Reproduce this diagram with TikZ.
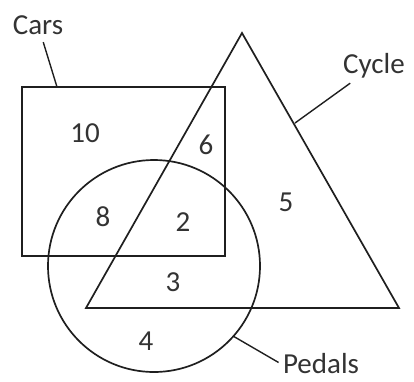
\documentclass[tikz,border=0pt]{standalone}
\usepackage{fontspec}
\setmainfont{Carlito}
\begin{document}
\begin{tikzpicture}[x=1pt, y=-1pt, line width=1.7pt, draw=black!88,
  lbl/.style={font=\fontsize{29}{34}\selectfont, text=black!80, inner sep=1pt},
  leader/.style={line width=1.4pt, draw=black!88}]
  \useasboundingbox (0,0) rectangle (414,381);
  % sets
  \draw (22,87) rectangle (225,256);
  \draw (242,33) -- (399,308) -- (86,308) -- cycle;
  \draw (154,266) circle [radius=106pt];

  % set names
  \node[lbl] (cars) at (38,25) {Cars};
  \node[lbl] (cycle) at (374,66) {Cycle};
  \node[lbl] (pedals) at (321,364) {Pedals};
  \coordinate (carsFoot) at (57,87);
  \coordinate (cycleFoot) at (295,123);
  \coordinate (pedalsFoot) at (233,336);
  \draw[leader, shorten <=6pt] (cars) -- (carsFoot);
  \draw[leader, shorten <=5pt] (cycle) -- (cycleFoot);
  \draw[leader, shorten <=3pt] (pedals.west) -- (pedalsFoot);

  % counts
  \node[lbl] (n10) at (85,133) {10};
  \node[lbl] (n6) at (206,145) {6};
  \node[lbl] (n5) at (286,202) {5};
  \node[lbl] (n8) at (103,217) {8};
  \node[lbl] (n2) at (183,222) {2};
  \node[lbl] (n3) at (173,282) {3};
  \node[lbl] (n4) at (146,341) {4};
\end{tikzpicture}
\end{document}
